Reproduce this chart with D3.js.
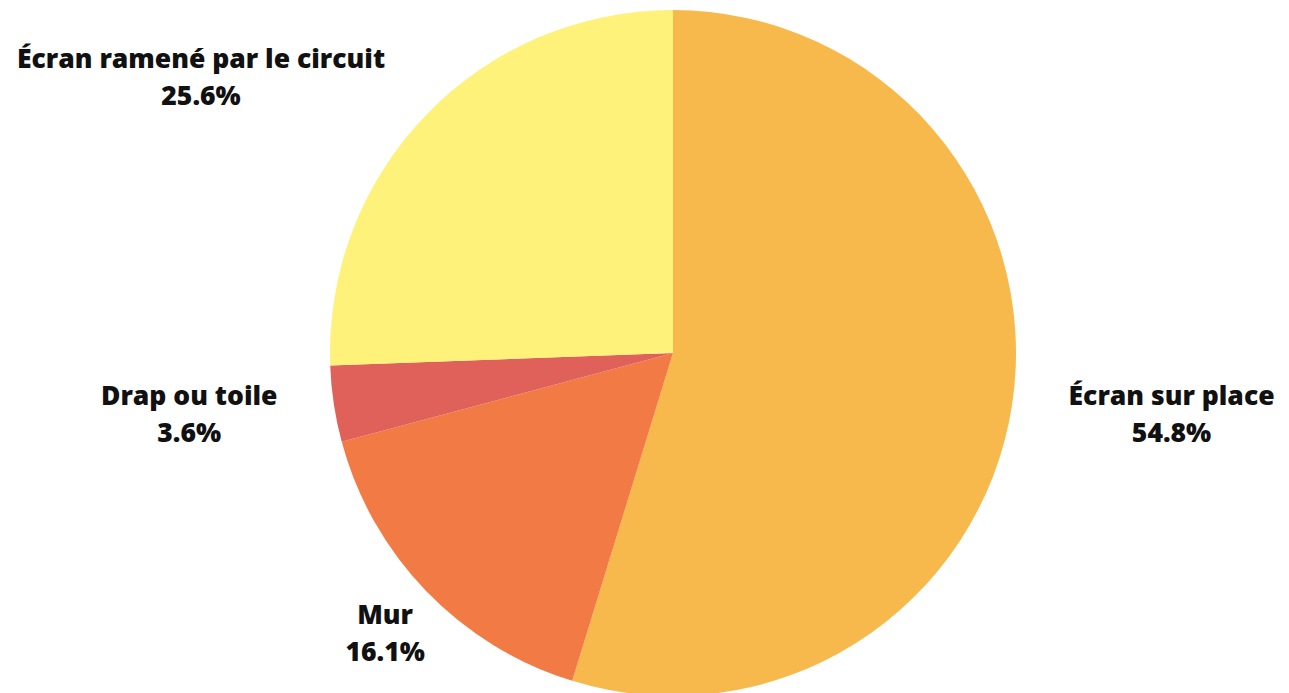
<!DOCTYPE html>
<html>
<head>
<meta charset="utf-8">
<script src="https://cdn.jsdelivr.net/npm/d3@7"></script>
<style>
  html, body { margin: 0; padding: 0; background: #fff; }
  svg { display: block; }
</style>
</head>
<body>
<svg id="drawing_region"></svg>
<script>
// slices, clockwise from 12 o'clock
const categories = ["Écran sur place", "Mur", "Drap ou toile", "Écran ramené par le circuit"];
const values = [54.8, 16.1, 3.6, 25.6];
const colors = ["#F7B94C", "#F27B45", "#E0605A", "#FEF27A"];

const config = {
    width: 1289,
    height: 693,
    cx: 673,
    cy: 353,
    radius: 343,
    labelRadius: 400
};

const data = categories.map((c, i) => ({ label: c, value: values[i], color: colors[i] }));

const svg = d3.select('#drawing_region')
    .attr('width', config.width)
    .attr('height', config.height);

const chart = svg.append('g')
    .attr('transform', `translate(${config.cx}, ${config.cy})`);

const pie = d3.pie()
    .sort(null)
    .value(d => d.value);

const arc = d3.arc()
    .innerRadius(0)
    .outerRadius(config.radius);

const labelArc = d3.arc()
    .innerRadius(config.labelRadius)
    .outerRadius(config.labelRadius);

const arcs = pie(data);

chart.selectAll('path')
    .data(arcs)
    .enter()
    .append('path')
    .attr('d', arc)
    .attr('fill', d => d.data.color);

// labels: two centred lines, name + percent
const labels = chart.selectAll('g.label')
    .data(arcs)
    .enter()
    .append('g')
    .attr('class', 'label');

const text = labels.append('text')
    .attr('text-anchor', 'middle')
    .attr('font-family', "'Open Sans', 'Noto Sans', sans-serif")
    .attr('font-weight', 800)
    .attr('font-size', 26.5)
    .attr('fill', '#111');

text.append('tspan')
    .attr('x', 0)
    .attr('y', -7)
    .text(d => d.data.label);

text.append('tspan')
    .attr('x', 0)
    .attr('y', 30)
    .text(d => d3.format('.1f')(d.data.value) + '%');

// block sits outside its anchor on the label arc; lower diagonal labels are centred
labels.each(function(d) {
    const w = this.getBBox().width;
    const [x, y] = labelArc.centroid(d);
    const a = (d.startAngle + d.endAngle) / 2;
    const s = Math.sin(a);
    let dx = 0;
    if (Math.abs(s) > 0.9 || y < 0) dx = s > 0 ? w / 2 : -w / 2;
    d3.select(this).attr('transform', `translate(${x + dx}, ${y})`);
});
</script>
</body>
</html>
